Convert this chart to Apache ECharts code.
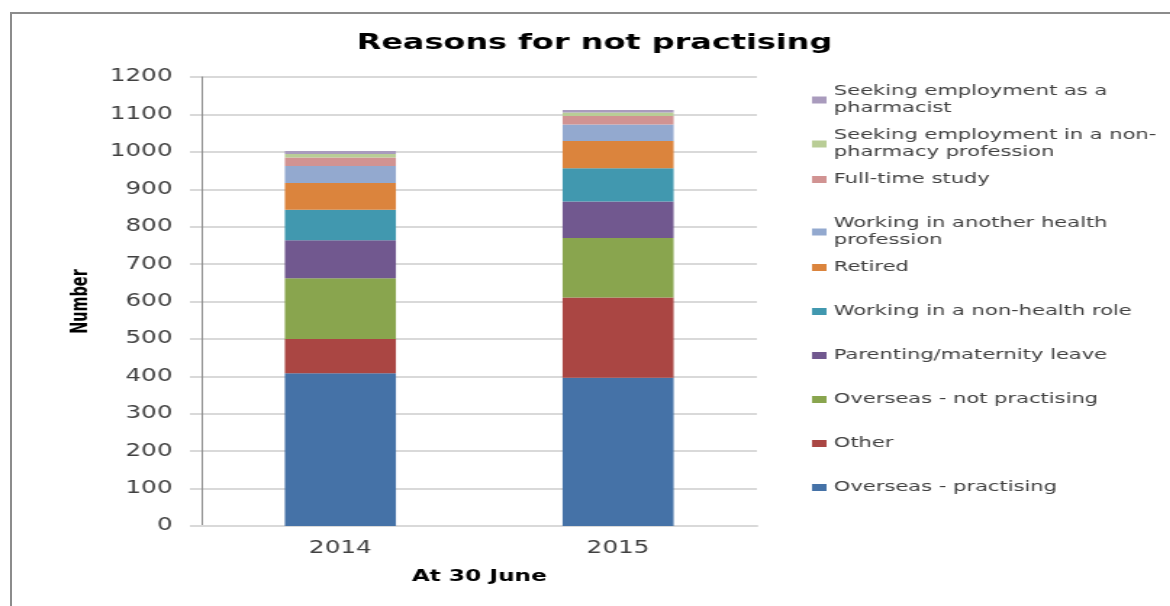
<!DOCTYPE html>
<html>
<head>
<meta charset="utf-8">
<script src="https://cdn.jsdelivr.net/npm/echarts@6/dist/echarts.min.js"></script>
<style>
    html, body {
        margin: 0;
        padding: 0;
        background: #fff;
        overflow: hidden;
    }

    /* the original picture is stretched sideways, so the chart is too */
    #chart {
        width: 807px;
        height: 606px;
        transform: scaleX(1.45);
        transform-origin: 0 0;
    }

    .frame {
        position: absolute;
        left: 10px;
        top: 12px;
        width: 1300px;
        height: 700px;
        border-left: 2px solid #8c8c8c;
        border-top: 2px solid #8c8c8c;
        pointer-events: none;
    }
</style>
</head>
<body>
<div id="chart"></div>
<div class="frame"></div>
<script>
const categories = ['2014', '2015']

// stack order, bottom to top
const seriesNames = [
    'Overseas - practising',
    'Other',
    'Overseas - not practising',
    'Parenting/maternity leave',
    'Working in a non-health role',
    'Retired',
    'Working in another health\nprofession',
    'Full-time study',
    'Seeking employment in a non-\npharmacy profession',
    'Seeking employment as a\npharmacist'
]

const overseasPractising = [408, 396]
const other = [92, 215]
const overseasNotPractising = [162, 159]
const parenting = [102, 97]
const nonHealthRole = [81, 89]
const retired = [72, 73]
const anotherHealth = [45, 44]
const fullTimeStudy = [23, 23]
const seekingNonPharmacy = [9, 9]
const seekingPharmacist = [8, 7]

const yMin = 0, yMax = 1200, yStep = 100

const colors = ['#4572A7', '#AA4643', '#89A54E', '#71588F', '#4198AF',
    '#DB843D', '#93A9CF', '#D19392', '#B9CD96', '#A99BBD']

const values = [overseasPractising, other, overseasNotPractising, parenting, nonHealthRole,
    retired, anotherHealth, fullTimeStudy, seekingNonPharmacy, seekingPharmacist]

const font = 'DejaVu Sans'
const chart = echarts.init(document.getElementById('chart'))

let seriesData = seriesNames.map((name, index) => {
    return {
        name: name,
        type: 'bar',
        stack: 'total',
        data: values[index],
        barCategoryGap: '60%',
        itemStyle: { color: colors[index] }
    }
})

// legend reads top to bottom from the top of the stack, one row every 44px
let legends = seriesNames.slice().reverse().map((name, i) => {
    return {
        data: [name],
        orient: 'vertical',
        left: 560,
        top: 83 + i * 44,
        padding: 0,
        icon: 'rect',
        itemWidth: 10,
        itemHeight: 7,
        selectedMode: false,
        textStyle: {
            fontFamily: font,
            fontSize: 14.5,
            lineHeight: 17,
            color: '#404040'
        }
    }
})

chart.setOption({
    animation: false,
    title: {
        text: 'Reasons for not practising',
        left: 410,
        textAlign: 'center',
        top: 32,
        padding: 0,
        textStyle: {
            fontFamily: font,
            fontSize: 22,
            fontWeight: 'bold',
            color: '#000'
        }
    },
    legend: legends,
    grid: {
        left: 139,
        right: 285,
        top: 77,
        bottom: 80
    },
    xAxis: {
        type: 'category',
        data: categories,
        name: 'At 30 June',
        nameLocation: 'middle',
        nameGap: 43,
        nameTextStyle: {
            fontFamily: font,
            fontSize: 16,
            fontWeight: 'bold',
            color: '#000'
        },
        axisLine: {
            lineStyle: { color: '#d9d9d9', width: 2 }
        },
        axisTick: {
            length: 6,
            lineStyle: { color: '#8c8c8c' }
        },
        axisLabel: {
            margin: 14,
            fontFamily: font,
            fontSize: 17,
            color: '#404040'
        }
    },
    yAxis: {
        type: 'value',
        min: yMin,
        max: yMax,
        interval: yStep,
        name: 'Number',
        nameLocation: 'middle',
        nameGap: 75,
        nameTextStyle: {
            fontFamily: 'DejaVu Sans Condensed',
            fontSize: 16,
            fontWeight: 'bold',
            color: '#000'
        },
        axisLine: {
            show: true,
            lineStyle: { color: '#8c8c8c', width: 1 }
        },
        axisTick: {
            show: true,
            length: 8,
            lineStyle: { color: '#d9d9d9', width: 2 }
        },
        splitLine: {
            lineStyle: { color: '#d9d9d9', width: 2 }
        },
        axisLabel: {
            margin: 20,
            fontFamily: font,
            fontSize: 17,
            color: '#404040',
            formatter: (v) => String(v)
        }
    },
    series: seriesData
})
</script>
</body>
</html>
